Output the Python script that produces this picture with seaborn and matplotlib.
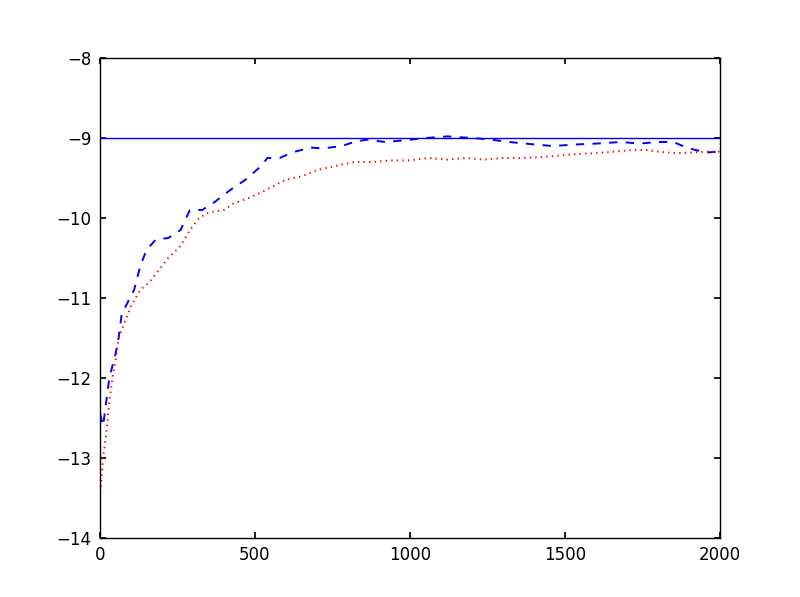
import matplotlib
matplotlib.use("Agg")
import matplotlib.pyplot as plt
import seaborn as sns
import pandas as pd

# values
steps_a = [0, 10, 20, 30, 50, 60, 70, 90, 110, 130, 150, 180, 220, 260, 290, 330,
           370, 420, 470, 520, 540, 580, 620, 680, 720, 780, 820, 860, 920, 980,
           1050, 1120, 1200, 1260, 1320, 1400, 1460, 1540, 1600, 1680, 1740, 1800,
           1850, 1880, 1920, 1960, 2000]
score_a = [-12.45, -12.6, -12.3, -12.0, -11.7, -11.5, -11.2, -11.05, -10.9, -10.6,
           -10.4, -10.27, -10.25, -10.15, -9.9, -9.9, -9.8, -9.65, -9.52, -9.35,
           -9.25, -9.25, -9.18, -9.12, -9.13, -9.1, -9.05, -9.02, -9.05, -9.03,
           -9.0, -8.98, -9.0, -9.02, -9.05, -9.08, -9.1, -9.08, -9.07, -9.05,
           -9.07, -9.05, -9.05, -9.1, -9.15, -9.18, -9.17]

steps_b = [0, 10, 20, 30, 40, 50, 60, 80, 100, 130, 160, 190, 220, 260, 290, 320,
           350, 400, 430, 480, 520, 560, 600, 650, 700, 760, 820, 880, 940, 1000,
           1060, 1120, 1180, 1240, 1300, 1360, 1420, 1480, 1540, 1600, 1660, 1720,
           1760, 1800, 1860, 1920, 1960, 2000]
score_b = [-13.5, -13.0, -12.7, -12.3, -12.0, -11.8, -11.5, -11.3, -11.1, -10.9,
           -10.8, -10.65, -10.5, -10.35, -10.15, -10.0, -9.93, -9.9, -9.82, -9.75,
           -9.68, -9.6, -9.52, -9.48, -9.4, -9.35, -9.3, -9.3, -9.28, -9.28, -9.25,
           -9.27, -9.25, -9.27, -9.25, -9.25, -9.24, -9.22, -9.2, -9.19, -9.17,
           -9.15, -9.15, -9.17, -9.19, -9.18, -9.17, -9.17]

target = -9.0

sns.set_theme(style="white", rc={
    "axes.edgecolor": "black",
    "axes.linewidth": 1.0,
    "xtick.labelsize": 12,
    "ytick.labelsize": 12,
    "xtick.color": "black",
    "ytick.color": "black",
    "lines.scale_dashes": False,
    "lines.dashed_pattern": [6, 6],
    "lines.dotted_pattern": [1, 3],
})
plt.rcParams["font.family"] = ["DejaVu Sans"]

fig = plt.figure(figsize=(8, 5.97), dpi=100)
ax = fig.add_axes([0.125, 1 - 538 / 597, 0.775, 480 / 597])

df_a = pd.DataFrame({"step": steps_a, "score": score_a})
df_b = pd.DataFrame({"step": steps_b, "score": score_b})

ax.axhline(target, color="#0000ff", lw=1)
sns.lineplot(data=df_a, x="step", y="score", ax=ax, color="#0000ff", lw=1.4, linestyle="--")
sns.lineplot(data=df_b, x="step", y="score", ax=ax, color="#ff0000", lw=1.4, linestyle=":")

ax.set_xlim(0, 2000)
ax.set_ylim(-14, -8)
ax.set_xticks([0, 500, 1000, 1500, 2000])
ax.set_yticks([-14, -13, -12, -11, -10, -9, -8])
ax.tick_params(which="both", direction="in", length=4, pad=6,
               top=True, right=True, bottom=True, left=True)
ax.set_xlabel("")
ax.set_ylabel("")

fig.savefig("out.png", dpi=100)
